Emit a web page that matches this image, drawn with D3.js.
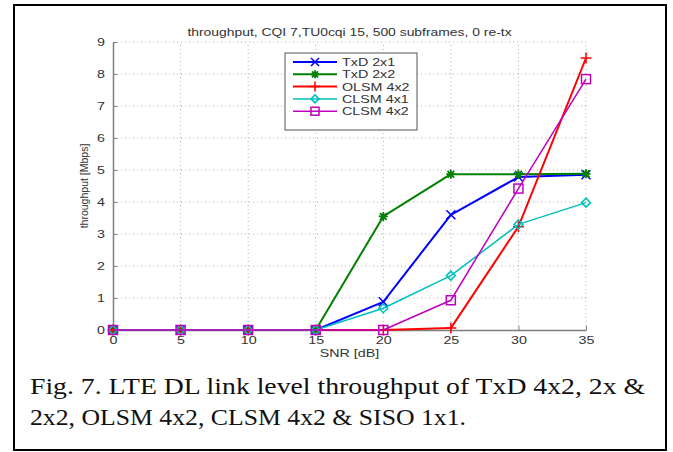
<!DOCTYPE html>
<html>
<head>
<meta charset="utf-8">
<script src="https://cdn.jsdelivr.net/npm/d3@7"></script>
<style>
  body { margin: 0; background: #fff; }
  text { font-family: "Liberation Sans", Arial, sans-serif; }
</style>
</head>
<body>
<div id="chart"></div>
<script>
// SNR points (dB)
let snr = [0, 5, 10, 15, 20, 25, 30, 35];

// throughput per scheme, Mbps
let txd2x1  = [0, 0, 0, 0, 0.88, 3.6, 4.78, 4.85];
let txd2x2  = [0, 0, 0, 0, 3.55, 4.87, 4.87, 4.88];
let olsm4x2 = [0, 0, 0, 0, 0, 0.06, 3.23, 8.5];
let clsm4x1 = [0, 0, 0, 0, 0.68, 1.7, 3.3, 3.98];
let clsm4x2 = [0, 0, 0, 0, 0, 0.93, 4.42, 7.84];

let seriesNames = ["TxD 2x1", "TxD 2x2", "OLSM 4x2", "CLSM 4x1", "CLSM 4x2"];
let xTicks = [0, 5, 10, 15, 20, 25, 30, 35];
let yTicks = [0, 1, 2, 3, 4, 5, 6, 7, 8, 9];

let titleText = "throughput, CQI 7,TU0cqi 15, 500 subframes, 0 re-tx";
let captionLines = ["Fig. 7. LTE DL link level throughput of TxD 4x2, 2x &",
                    "2x2, OLSM 4x2, CLSM 4x2 & SISO 1x1."];

let series = [
  {name: seriesNames[0], values: txd2x1,  color: "#0000ff", marker: "x",       width: 2},
  {name: seriesNames[1], values: txd2x2,  color: "#008000", marker: "star",    width: 2},
  {name: seriesNames[2], values: olsm4x2, color: "#ff0000", marker: "plus",    width: 2},
  {name: seriesNames[3], values: clsm4x1, color: "#00bfbf", marker: "diamond", width: 1.5},
  {name: seriesNames[4], values: clsm4x2, color: "#bf00bf", marker: "square",  width: 1.5}
];

let width = 673;
let height = 452;
let margin = ({top: 42, right: 87, bottom: 122, left: 113});
// the figure was scanned a bit wide, so horizontal text is stretched
let stretch = 1.3;

let svg = d3.select("#chart").append("svg")
  .attr("width", width).attr("height", height);

svg.append("rect").attr("width", width).attr("height", height).attr("fill", "#fff");

// outer frame
svg.append("rect")
  .attr("x", 14).attr("y", 5).attr("width", 652).attr("height", 445)
  .attr("fill", "none").attr("stroke", "#000").attr("stroke-width", 2);

let xScale = d3.scaleLinear().domain([0, 35]).range([margin.left, width - margin.right]);
let yScale = d3.scaleLinear().domain([0, 9]).range([height - margin.bottom, margin.top]);

// grid
let grid = svg.append("g").attr("stroke", "#b0b0b0").attr("stroke-dasharray", "1,3").attr("stroke-width", 1);
grid.selectAll(".gx").data(xTicks.slice(1)).enter().append("line")
  .attr("x1", d => xScale(d)).attr("x2", d => xScale(d))
  .attr("y1", yScale(0)).attr("y2", yScale(9));
grid.selectAll(".gy").data(yTicks.slice(1)).enter().append("line")
  .attr("x1", xScale(0)).attr("x2", xScale(35))
  .attr("y1", d => yScale(d)).attr("y2", d => yScale(d));

// axes, matlab style: inner ticks
let xAxis = d3.axisBottom(xScale).tickValues(xTicks).tickSizeInner(-4).tickSizeOuter(0).tickPadding(6);
let yAxis = d3.axisLeft(yScale).tickValues(yTicks).tickSizeInner(-4).tickSizeOuter(0).tickPadding(7);

let gx = svg.append("g").attr("transform", `translate(0,${yScale(0)})`).call(xAxis);
let gy = svg.append("g").attr("transform", `translate(${xScale(0)},0)`).call(yAxis);
[gx, gy].forEach(g => {
  g.select(".domain").attr("stroke", "#7f7f7f").attr("stroke-width", 1.5);
  g.selectAll(".tick line").attr("stroke", "#7f7f7f");
  g.selectAll(".tick text").attr("fill", "#333").style("font-size", "11px")
    .style("font-family", "Liberation Sans, Arial, sans-serif");
});
gx.selectAll(".tick text").attr("transform", `scale(${stretch},1)`);
gy.selectAll(".tick text").attr("x", -8 / stretch).attr("transform", `scale(${stretch},1)`);

// lines
let line = d3.line().x((d, i) => xScale(snr[i])).y(d => yScale(d));

function drawMarker(g, type, color, size) {
  let s = size;
  if (type == "x") {
    g.append("path").attr("d", `M${-s},${-s}L${s},${s}M${-s},${s}L${s},${-s}`)
      .attr("stroke", color).attr("stroke-width", 1.5).attr("fill", "none");
  } else if (type == "plus") {
    g.append("path").attr("d", `M${-s - 1},0L${s + 1},0M0,${-s - 1}L0,${s + 1}`)
      .attr("stroke", color).attr("stroke-width", 1.5).attr("fill", "none");
  } else if (type == "star") {
    g.append("path").attr("d", `M${-s},0L${s},0M0,${-s}L0,${s}M${-s * 0.75},${-s * 0.75}L${s * 0.75},${s * 0.75}M${-s * 0.75},${s * 0.75}L${s * 0.75},${-s * 0.75}`)
      .attr("stroke", color).attr("stroke-width", 1.8).attr("fill", "none");
  } else if (type == "diamond") {
    g.append("path").attr("d", `M0,${-s}L${s},0L0,${s}L${-s},0Z`)
      .attr("stroke", color).attr("stroke-width", 1.5).attr("fill", "none");
  } else if (type == "square") {
    g.append("rect").attr("x", -s).attr("y", -s).attr("width", 2 * s).attr("height", 2 * s)
      .attr("stroke", color).attr("stroke-width", 1.5).attr("fill", "none");
  }
}

series.forEach(s => {
  svg.append("path").datum(s.values)
    .attr("d", line)
    .attr("fill", "none")
    .attr("stroke", s.color)
    .attr("stroke-width", s.width)
    .attr("stroke-linejoin", "round");
  s.values.forEach((v, i) => {
    let g = svg.append("g").attr("transform", `translate(${xScale(snr[i])},${yScale(v)})`);
    drawMarker(g, s.marker, s.color, 4.5);
  });
});

// stretched horizontal text helper
function wideText(x, y, str, size, anchor) {
  return svg.append("text")
    .attr("transform", `translate(${x},${y}) scale(${stretch},1)`)
    .attr("text-anchor", anchor || "start")
    .attr("fill", "#333").style("font-size", size + "px")
    .text(str);
}

// legend
let legend = svg.append("g");
legend.append("rect")
  .attr("x", 285).attr("y", 53).attr("width", 132).attr("height", 77)
  .attr("fill", "#fff").attr("stroke", "#555").attr("stroke-width", 1);
series.forEach((s, i) => {
  let y = 62 + i * 12.3;
  legend.append("line").attr("x1", 293).attr("x2", 337).attr("y1", y).attr("y2", y)
    .attr("stroke", s.color).attr("stroke-width", s.width);
  let g = legend.append("g").attr("transform", `translate(315,${y})`);
  drawMarker(g, s.marker, s.color, 4);
  wideText(342, y + 4, s.name, 11);
});

// title and axis labels
let midX = (xScale(0) + xScale(35)) / 2;
wideText(midX, 36, titleText, 10.7, "middle");
wideText(midX, 357, "SNR [dB]", 11, "middle");

svg.append("text")
  .attr("transform", `translate(88,${(yScale(0) + yScale(9)) / 2}) rotate(-90)`)
  .attr("text-anchor", "middle").attr("fill", "#333").style("font-size", "10.5px")
  .text("throughput [Mbps]");

// caption, fitted to the printed line widths
let captionWidths = [615, 436];
captionLines.forEach((t, i) => {
  svg.append("text").attr("x", 30).attr("y", 394 + i * 31)
    .style("font-family", "Liberation Serif, DejaVu Serif, serif")
    .style("font-size", "23px").attr("fill", "#111")
    .attr("textLength", captionWidths[i]).attr("lengthAdjust", "spacingAndGlyphs")
    .text(t);
});
</script>
</body>
</html>
